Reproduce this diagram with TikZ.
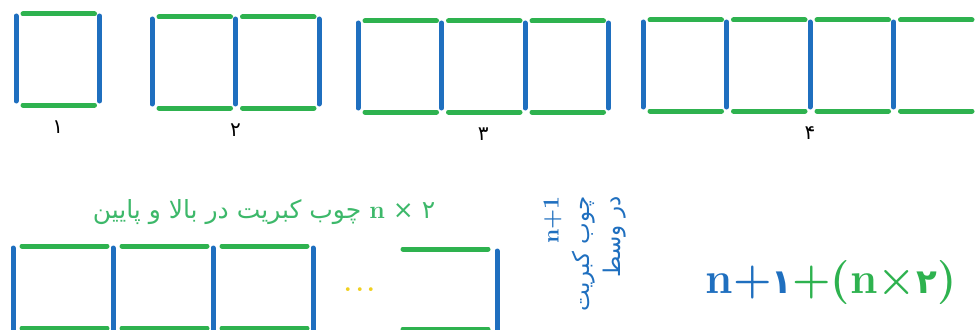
\documentclass[tikz,border=0pt]{standalone}
\usepackage{fontspec}
\usepackage{xcolor}
\usepackage{tikz}
\newfontfamily\farsi[Script=Arabic]{DejaVu Sans}
\TeXXeTstate=1
\definecolor{blu}{HTML}{1F6FBF}
\definecolor{verde}{HTML}{2EB24F}
\definecolor{verdechiaro}{HTML}{3DB86A}
\definecolor{giallo}{HTML}{F0D020}
\tikzset{
  stecca/.style={line width=5pt, line cap=round},
  vert/.style={stecca, blu},
  oriz/.style={stecca, verde},
  numero/.style={font=\farsi\fontsize{20}{20}\selectfont}
}

\begin{document}
\begin{tikzpicture}[x=1pt,y=-1pt]
        \useasboundingbox (0,0) rectangle (976,329);
        \clip (0,0) rectangle (976,329);
        % prima riga: 1, 2, 3, 4 quadrati
        \foreach \x/\y/\n/\v/\lab in {16/14/1/1/۱, 152/17/2/2/۲, 358/21/3/3/۳, 643/20/4/3/۴}{
          \foreach \i in {0,...,\v}
            \draw[vert] (\x+\i*83.5, \y+2) -- (\x+\i*83.5, \y+87);
          \foreach \i in {1,...,\n}{
            \draw[oriz] (\x+\i*83.5-76.5, \y) -- (\x+\i*83.5-5, \y);
            \draw[oriz] (\x+\i*83.5-76.5, \y+91) -- (\x+\i*83.5-5, \y+91);
          }
          \node[numero] (lab\n) at (\x+\n*41.75, \y+113) {\lab};
        }
        % seconda riga: n quadrati
        \foreach \i in {0,...,3}
          \draw[vert] (13+\i*100, 248) -- (13+\i*100, 335);
        \foreach \i in {0,...,2}{
          \draw[oriz] (22+\i*100, 246) -- (107+\i*100, 246);
          \draw[oriz] (22+\i*100, 328) -- (107+\i*100, 328);
        }
        \draw[oriz] (403,249) -- (488,249);
        \draw[oriz] (403,329) -- (488,329);
        \draw[vert] (497,251) -- (497,335);
        \node[text=giallo, font=\fontsize{46}{46}\selectfont] (punti) at (360,290) {...};
        % testi
        \node[text=verdechiaro, font=\farsi\fontsize{25}{25}\selectfont] (sopra) at (264,212)
          {\beginR\beginL{\rmfamily\bfseries n} × ۲\endL{} چوب کبریت در بالا و پایین\endR};
        \node[text=blu, font=\farsi\fontsize{23}{31}\selectfont, rotate=90, align=right,
          anchor=north east] (mezzo) at (540,193)
          {{\rmfamily\bfseries n+1}\\ \beginR چوب کبریت\endR\\ \beginR در وسط\endR};
        \node[font=\bfseries\fontsize{44}{44}\selectfont] (formula) at (831,283)
          {\textcolor{blu}{n+{\farsi\fontsize{34}{34}\selectfont ۱}}\textcolor{verde}{+(n×{\farsi\fontsize{34}{34}\selectfont ۲})}};
    \end{tikzpicture}
\end{document}
